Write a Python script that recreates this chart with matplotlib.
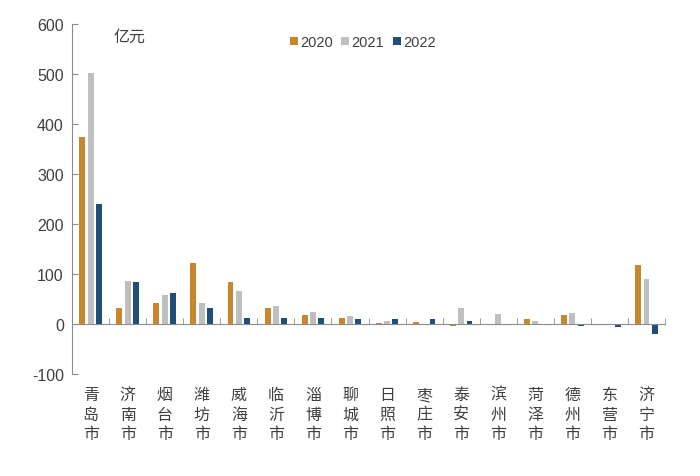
import numpy as np
import matplotlib.pyplot as plt

plt.rcParams['font.family'] = ['Liberation Sans', 'Noto Sans CJK SC', 'DejaVu Sans']
plt.rcParams['axes.unicode_minus'] = False

# city names and yearly values (亿元)
cities = ['青岛市', '济南市', '烟台市', '潍坊市', '威海市', '临沂市', '淄博市', '聊城市',
          '日照市', '枣庄市', '泰安市', '滨州市', '菏泽市', '德州市', '东营市', '济宁市']
v2020 = [374, 32, 42, 122, 83, 32, 17, 11, 1, 4, -5, 0, 9, 17, -3, 117]
v2021 = [502, 85, 57, 41, 66, 36, 23, 15, 6, -1, 32, 19, 5, 22, 0, 90]
v2022 = [240, 83, 62, 32, 12, 12, 11, 10, 9, 9, 5, 0, -3, -5, -6, -20]

colors = ['#C8862E', '#BFBFBF', '#1F4E79']
grey = '#8C8C8C'

fig = plt.figure(figsize=(7, 4.77), dpi=100)
ax = fig.add_axes([0.103, 0.214, 0.847, 0.734])

x = np.arange(len(cities))
w = 0.16
step = 0.225
ax.bar(x - step, v2020, width=w, color=colors[0], label='2020')
ax.bar(x, v2021, width=w, color=colors[1], label='2021')
ax.bar(x + step, v2022, width=w, color=colors[2], label='2022')

ax.set_ylim(-100, 600)
ax.set_xlim(-0.5, len(cities) - 0.5)
ax.set_yticks(range(-100, 601, 100))

# x axis drawn at zero
ax.spines['bottom'].set_position(('data', 0))
ax.spines['bottom'].set_color(grey)
ax.spines['left'].set_color(grey)
ax.spines['top'].set_visible(False)
ax.spines['right'].set_visible(False)

ax.set_xticks(x)
ax.set_xticklabels([])
ax.set_xticks(np.arange(-0.5, len(cities), 1), minor=True)
ax.tick_params(axis='x', which='major', length=0)
ax.tick_params(axis='x', which='minor', direction='in', length=4, color=grey)
ax.tick_params(axis='y', direction='in', length=4, color=grey, labelsize=11.5, labelcolor='#404040', pad=6)

# stacked vertical city names below the plot
for i, c in enumerate(cities):
    ax.text(i, -124, '\n'.join(c), ha='center', va='top', fontsize=11.5,
            color='#404040', linespacing=1.2, family='Noto Sans CJK SC')

ax.text(0.07, 0.965, '亿元', transform=ax.transAxes, fontsize=11.5, color='#404040',
        va='center', family='Noto Sans CJK SC')
ax.legend(loc='upper center', bbox_to_anchor=(0.49, 1.005), ncol=3, frameon=False,
          fontsize=10.5, handlelength=0.55, handleheight=0.55, handletextpad=0.15,
          columnspacing=0.6, labelcolor='#404040')

fig.savefig('out.png', dpi=100)
